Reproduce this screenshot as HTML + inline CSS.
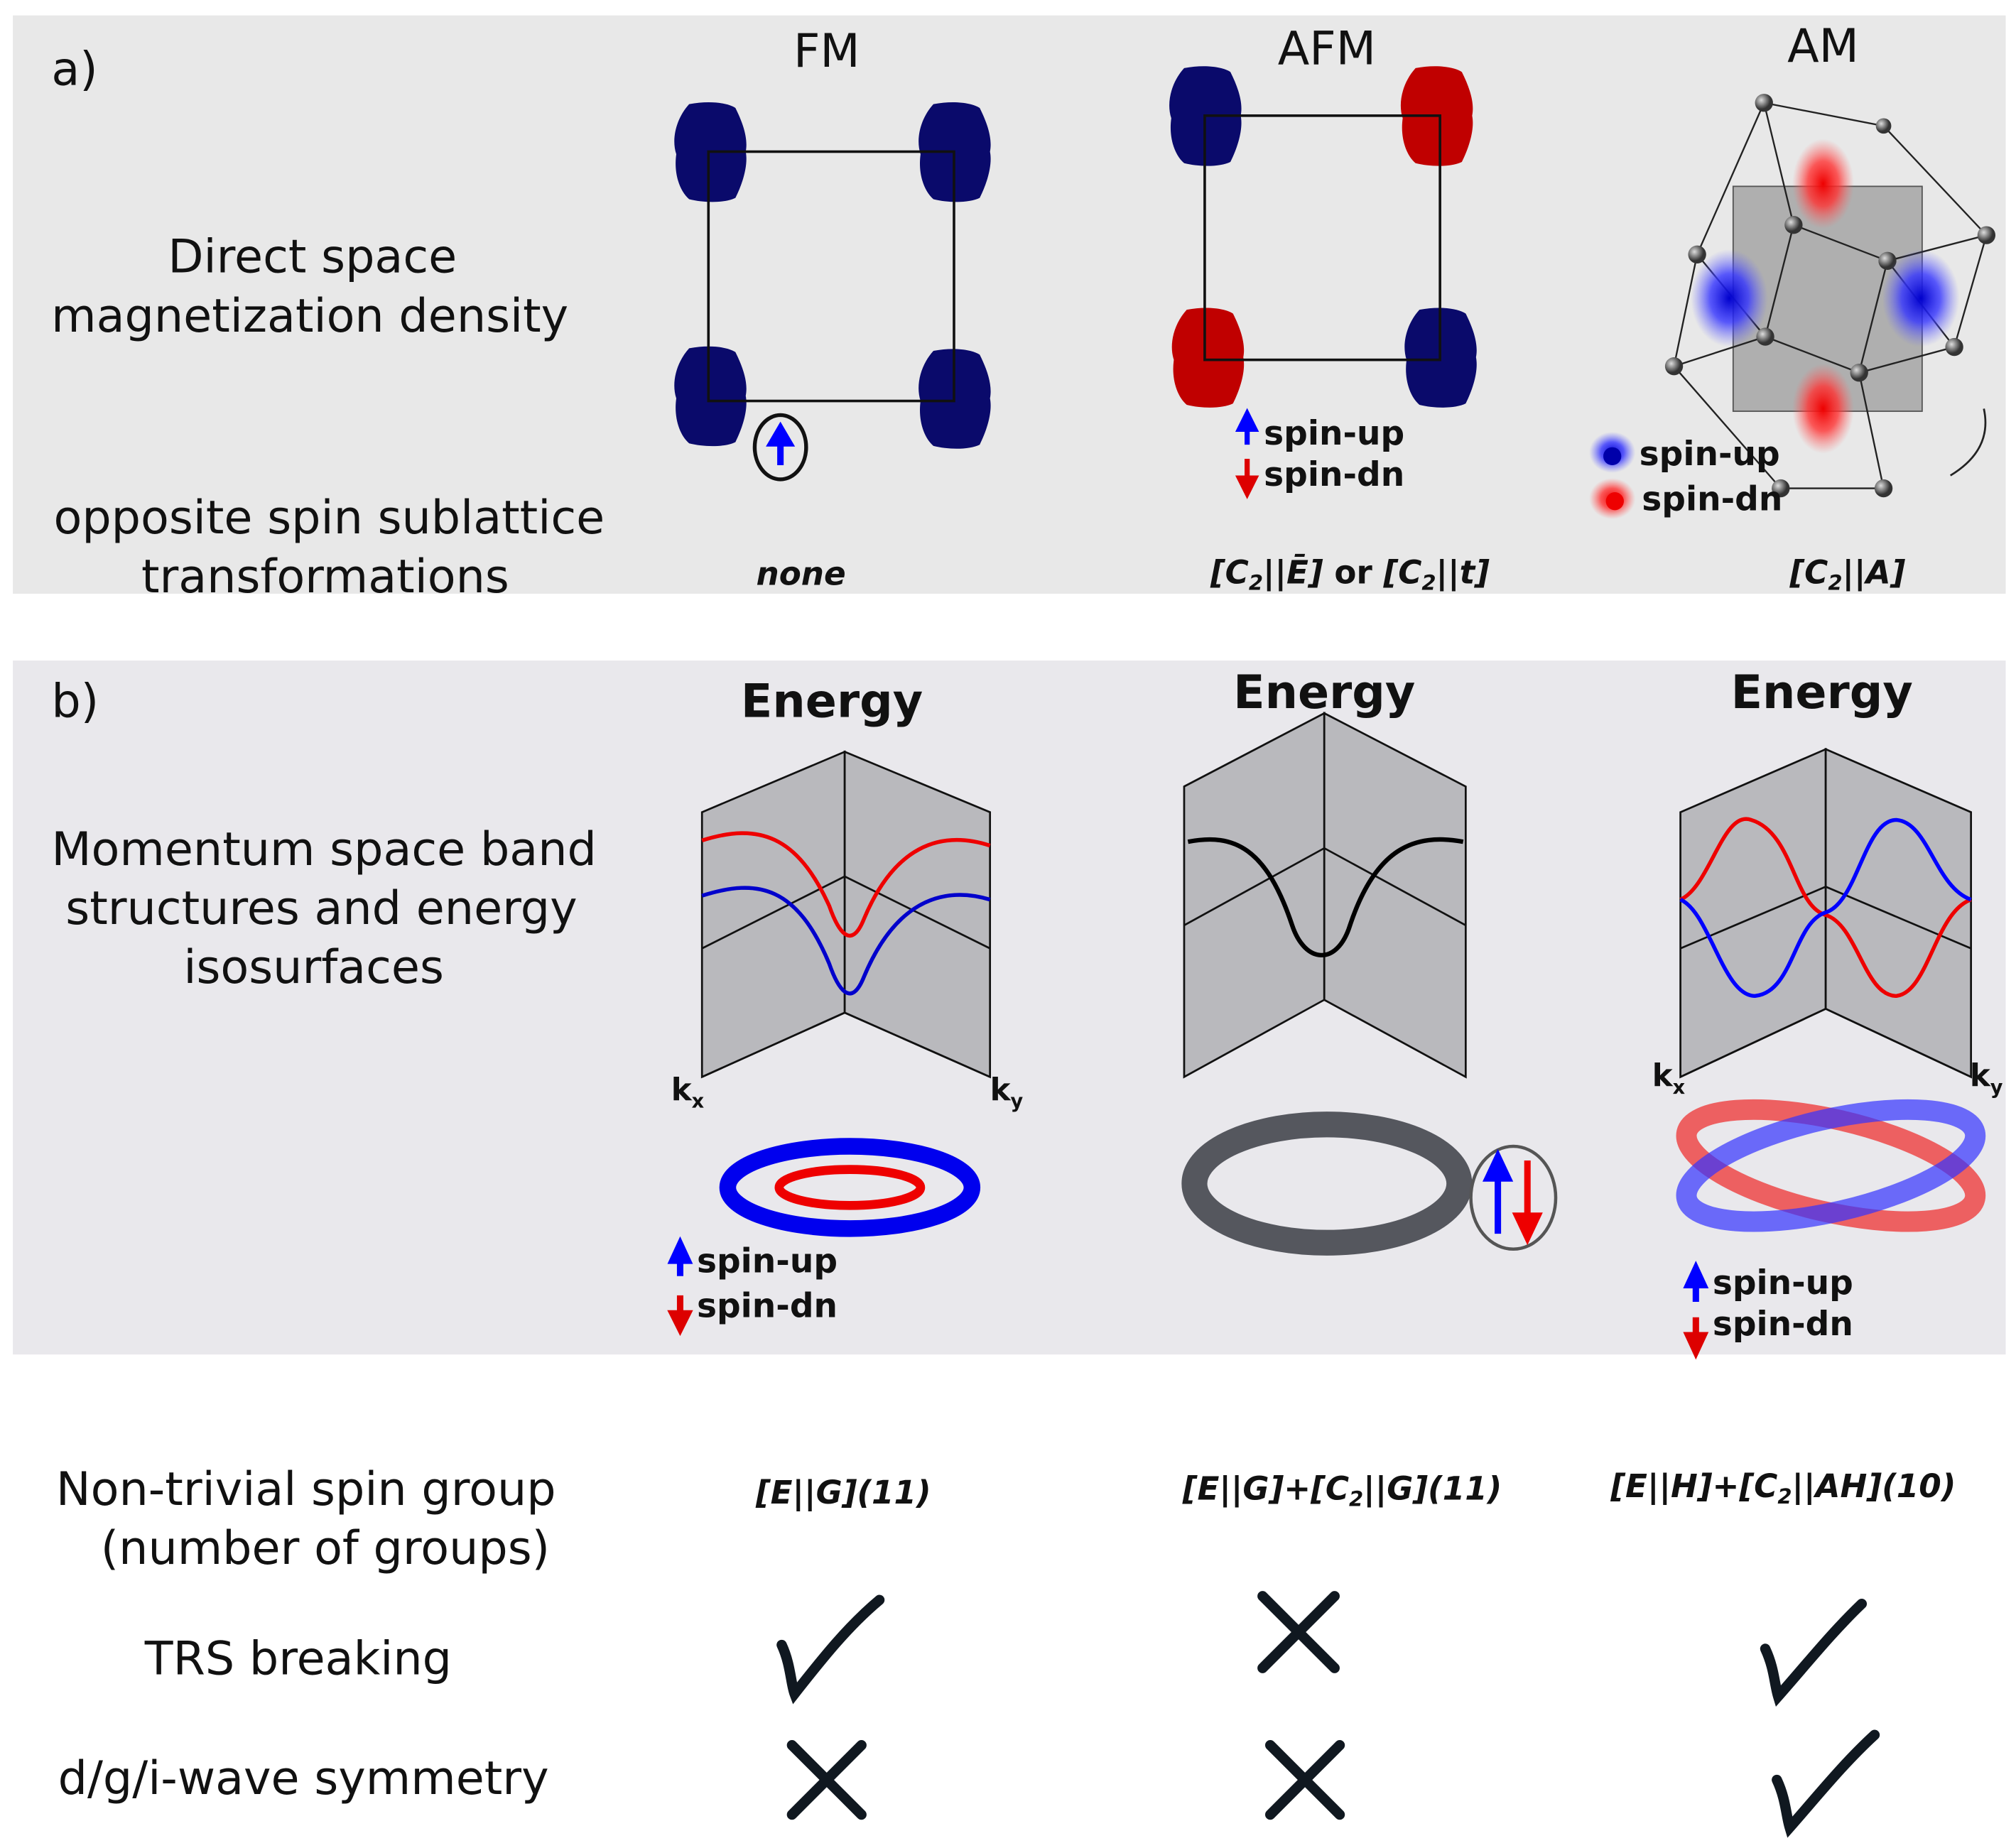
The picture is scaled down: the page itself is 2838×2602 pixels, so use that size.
<!DOCTYPE html>
<html><head><meta charset="utf-8"><style>html,body{margin:0;padding:0;background:#fff}svg{display:block}</style></head>
<body>
<svg width="2838" height="2602" viewBox="0 0 1568 1438" preserveAspectRatio="none" xmlns="http://www.w3.org/2000/svg" font-family="'DejaVu Sans','Liberation Sans',sans-serif">
<defs>
<g id="blob"><path d="M-16,-37 C0,-40 14,-38 20,-34 C26,-22 30,-10 28,0 C30,10 26,24 20,36 C12,40 -4,40 -16,37 C-24,30 -28,16 -26,2 C-30,-10 -26,-26 -16,-37 Z"/></g>
<radialGradient id="rg"><stop offset="0" stop-color="#e00"/><stop offset="0.5" stop-color="#f33" stop-opacity="0.8"/><stop offset="1" stop-color="#f66" stop-opacity="0"/></radialGradient>
<radialGradient id="bg"><stop offset="0" stop-color="#00c"/><stop offset="0.5" stop-color="#33f" stop-opacity="0.8"/><stop offset="1" stop-color="#66f" stop-opacity="0"/></radialGradient>
<radialGradient id="at" cx="0.35" cy="0.35"><stop offset="0" stop-color="#ddd"/><stop offset="1" stop-color="#333"/></radialGradient>
</defs>
<rect x="10" y="12" width="1550" height="450" fill="#e8e8e8"/>
<rect x="10" y="514" width="1550" height="540" fill="#e9e8ec"/>

<g font-size="36" fill="#111">
<text x="40" y="66">a)</text>
<text x="643" y="52" text-anchor="middle">FM</text>
<text x="1032" y="50" text-anchor="middle">AFM</text>
<text x="1418" y="48" text-anchor="middle">AM</text>
<text x="243" y="212" text-anchor="middle">Direct space</text>
<text x="241" y="258" text-anchor="middle">magnetization density</text>
<text x="256" y="415" text-anchor="middle">opposite spin sublattice</text>
<text x="253" y="461" text-anchor="middle">transformations</text>
<text x="40" y="558">b)</text>
<text x="252" y="673" text-anchor="middle">Momentum space band</text>
<text x="250" y="719" text-anchor="middle">structures and energy</text>
<text x="244" y="765" text-anchor="middle">isosurfaces</text>
<text x="238" y="1171" text-anchor="middle">Non-trivial spin group</text>
<text x="253" y="1217" text-anchor="middle">(number of groups)</text>
<text x="232" y="1303" text-anchor="middle">TRS breaking</text>
<text x="236" y="1396" text-anchor="middle">d/g/i-wave symmetry</text>
</g>
<g font-size="36" font-weight="bold" fill="#111">
<text x="647" y="558" text-anchor="middle">Energy</text>
<text x="1030" y="551" text-anchor="middle">Energy</text>
<text x="1417" y="551" text-anchor="middle">Energy</text>
</g>
<g font-size="25" font-weight="bold" fill="#111" font-style="italic">
<text x="623" y="455" text-anchor="middle">none</text>
<text x="1050" y="454" text-anchor="middle">[C<tspan font-size="16" dy="5">2</tspan><tspan dy="-5">||Ē] </tspan><tspan font-style="normal">or</tspan> [C<tspan font-size="16" dy="5">2</tspan><tspan dy="-5">||t]</tspan></text>
<text x="1437" y="454" text-anchor="middle">[C<tspan font-size="16" dy="5">2</tspan><tspan dy="-5">||A]</tspan></text>
<text x="656" y="1170" text-anchor="middle">[E||G](11)</text>
<text x="1044" y="1167" text-anchor="middle">[E||G]+[C<tspan font-size="16" dy="5">2</tspan><tspan dy="-5">||G](11)</tspan></text>
<text x="1387" y="1165" text-anchor="middle">[E||H]+[C<tspan font-size="16" dy="5">2</tspan><tspan dy="-5">||AH](10)</tspan></text>
</g>

<!-- FM -->
<g fill="#0a0a6b">
<use href="#blob" x="552" y="118"/><use href="#blob" x="742" y="118"/>
<use href="#blob" x="552" y="308"/><use href="#blob" x="742" y="310"/>
</g>
<rect x="551" y="118" width="191" height="194" fill="none" stroke="#111" stroke-width="2"/>
<ellipse cx="607" cy="348" rx="20" ry="25" fill="none" stroke="#111" stroke-width="3"/>
<path d="M607,362 V343 M600,345 L607,333 L614,345 Z" stroke="#00f" stroke-width="5" fill="#00f"/>

<!-- AFM -->
<use href="#blob" x="937" y="90" fill="#0a0a6b"/>
<use href="#blob" x="1117" y="90" fill="#c00000"/>
<use href="#blob" x="939" y="278" fill="#c00000"/>
<use href="#blob" x="1120" y="278" fill="#0a0a6b"/>
<rect x="937" y="90" width="183" height="190" fill="none" stroke="#111" stroke-width="2"/>
<g font-size="26" font-weight="bold" fill="#111">
<path d="M970,346 V332 M964,334 L970,322 L976,334 Z" stroke="#00f" stroke-width="4" fill="#00f"/>
<text x="983" y="346">spin-up</text>
<path d="M970,357 V373 M964,372 L970,384 L976,372 Z" stroke="#d00" stroke-width="4" fill="#d00"/>
<text x="983" y="378">spin-dn</text>
</g>

<!-- AM -->
<rect x="1348" y="145" width="147" height="175" fill="#888" fill-opacity="0.6" stroke="#555"/>
<g stroke="#222" stroke-width="1.3" fill="none">
<path d="M1372,80 L1465,98 L1545,183 M1372,80 L1395,175 M1372,80 L1320,198 M1395,175 L1468,203 L1545,183 M1395,175 L1373,262 M1320,198 L1373,262 L1446,290 L1520,270 M1468,203 L1520,270 M1468,203 L1446,290 M1320,198 L1302,285 L1373,262 M1302,285 L1385,380 L1465,380 L1446,290 M1545,183 L1520,270"/>
</g>
<g fill="url(#at)">
<circle cx="1372" cy="80" r="7"/><circle cx="1465" cy="98" r="6"/><circle cx="1545" cy="183" r="7"/>
<circle cx="1395" cy="175" r="7"/><circle cx="1468" cy="203" r="7"/><circle cx="1320" cy="198" r="7"/>
<circle cx="1373" cy="262" r="7"/><circle cx="1446" cy="290" r="7"/><circle cx="1520" cy="270" r="7"/>
<circle cx="1302" cy="285" r="7"/><circle cx="1385" cy="380" r="7"/><circle cx="1465" cy="380" r="7"/>
</g>
<ellipse cx="1418" cy="143" rx="24" ry="35" fill="url(#rg)"/>
<ellipse cx="1418" cy="318" rx="24" ry="35" fill="url(#rg)"/>
<ellipse cx="1345" cy="232" rx="30" ry="38" fill="url(#bg)"/>
<ellipse cx="1494" cy="232" rx="30" ry="38" fill="url(#bg)"/>
<path d="M1517,370 Q1550,350 1543,318" fill="none" stroke="#222" stroke-width="1.5"/>
<ellipse cx="1254" cy="352" rx="18" ry="16" fill="url(#bg)"/>
<circle cx="1254" cy="355" r="7" fill="#00a"/>
<ellipse cx="1254" cy="388" rx="18" ry="16" fill="url(#rg)"/>
<circle cx="1256" cy="390" r="7" fill="#e00"/>
<g font-size="26" font-weight="bold" fill="#111">
<text x="1275" y="362">spin-up</text>
<text x="1277" y="397">spin-dn</text>
</g>

<!-- Band plots -->
<g stroke="#111" stroke-width="1.5">
<path d="M546,632 L657,585 L657,788 L546,838 Z" fill="#b9b9bd"/>
<path d="M657,585 L770,632 L770,838 L657,788 Z" fill="#b9b9bd"/>
<path d="M546,738 L657,682 L770,738 M657,788 L546,838 M657,788 L770,838" fill="none"/>
<path d="M921,612 L1030,555 L1030,778 L921,838 Z" fill="#b9b9bd"/>
<path d="M1030,555 L1140,612 L1140,838 L1030,778 Z" fill="#b9b9bd"/>
<path d="M921,720 L1030,660 L1140,720" fill="none"/>
<path d="M1307,632 L1420,583 L1420,785 L1307,838 Z" fill="#b9b9bd"/>
<path d="M1420,583 L1533,632 L1533,838 L1420,785 Z" fill="#b9b9bd"/>
<path d="M1307,738 L1420,690 L1533,738 M1420,785 L1307,838 M1420,785 L1533,838" fill="none"/>
</g>
<path d="M546,654 C590,640 620,650 645,705 C652,725 662,740 672,715 C695,660 730,645 770,658" fill="none" stroke="#e00" stroke-width="3"/>
<path d="M546,697 C590,683 620,690 645,750 C652,770 662,785 672,760 C695,705 730,688 770,700" fill="none" stroke="#00c" stroke-width="3"/>
<path d="M924,655 C960,648 985,660 1005,720 C1015,750 1040,752 1050,720 C1070,660 1100,648 1138,655" fill="none" stroke="#000" stroke-width="3.5"/>
<path d="M1307,700 C1330,690 1340,630 1362,638 C1395,648 1395,705 1420,712 C1445,720 1450,775 1475,775 C1500,772 1505,710 1533,700" fill="none" stroke="#e00" stroke-width="3"/>
<path d="M1307,700 C1330,710 1340,775 1365,775 C1395,772 1395,718 1420,710 C1445,702 1450,638 1475,638 C1500,640 1505,690 1533,700" fill="none" stroke="#00f" stroke-width="3"/>
<g font-size="24" font-weight="bold" fill="#111">
<text x="522" y="856">k<tspan font-size="15" dy="6">x</tspan></text>
<text x="770" y="856">k<tspan font-size="15" dy="6">y</tspan></text>
<text x="1285" y="845">k<tspan font-size="15" dy="6">x</tspan></text>
<text x="1532" y="845">k<tspan font-size="15" dy="6">y</tspan></text>
</g>
<!-- isosurfaces -->
<ellipse cx="661" cy="924" rx="95" ry="32" fill="none" stroke="#0000ee" stroke-width="13"/>
<ellipse cx="661" cy="924" rx="55" ry="14" fill="none" stroke="#e00" stroke-width="7"/>
<ellipse cx="1032" cy="921" rx="103" ry="46" fill="none" stroke="#55575e" stroke-width="20"/>
<ellipse cx="1177" cy="932" rx="33" ry="40" fill="none" stroke="#555" stroke-width="2.5"/>
<path d="M1165,960 V915 M1157,917 L1165,900 L1173,917 Z" stroke="#00f" stroke-width="5" fill="#00f"/>
<path d="M1188,903 V948 M1180,946 L1188,963 L1196,946 Z" stroke="#e00" stroke-width="5" fill="#e00"/>
<ellipse cx="1424" cy="907" rx="115" ry="36" transform="rotate(13 1424 907)" fill="none" stroke="#e33" stroke-opacity="0.75" stroke-width="16"/>
<ellipse cx="1424" cy="907" rx="115" ry="36" transform="rotate(-13 1424 907)" fill="none" stroke="#33f" stroke-opacity="0.7" stroke-width="16"/>
<g font-size="26" font-weight="bold" fill="#111">
<path d="M529,993 V979 M523,981 L529,968 L535,981 Z" stroke="#00f" stroke-width="5" fill="#00f"/>
<text x="542" y="990">spin-up</text>
<path d="M529,1008 V1024 M523,1022 L529,1034 L535,1022 Z" stroke="#d00" stroke-width="5" fill="#d00"/>
<text x="542" y="1025">spin-dn</text>
<path d="M1319,1013 V998 M1313,1000 L1319,987 L1325,1000 Z" stroke="#00f" stroke-width="5" fill="#00f"/>
<text x="1332" y="1007">spin-up</text>
<path d="M1319,1025 V1041 M1313,1039 L1319,1052 L1325,1039 Z" stroke="#d00" stroke-width="5" fill="#d00"/>
<text x="1332" y="1039">spin-dn</text>
</g>
<!-- checks and crosses -->
<g fill="none" stroke="#101820" stroke-width="8" stroke-linecap="round">
<path d="M608,1280 C615,1295 615,1310 618,1318 C640,1290 660,1265 684,1245"/>
<path d="M1373,1283 C1380,1298 1380,1310 1383,1320 C1405,1295 1425,1270 1448,1248"/>
<path d="M1382,1385 C1389,1400 1389,1412 1392,1422 C1414,1397 1434,1372 1458,1350"/>
<path d="M982,1242 L1038,1298 M1038,1242 L982,1298"/>
<path d="M616,1358 L670,1412 M670,1358 L616,1412"/>
<path d="M988,1358 L1042,1412 M1042,1358 L988,1412"/>
</g>
</svg>
</body></html>
